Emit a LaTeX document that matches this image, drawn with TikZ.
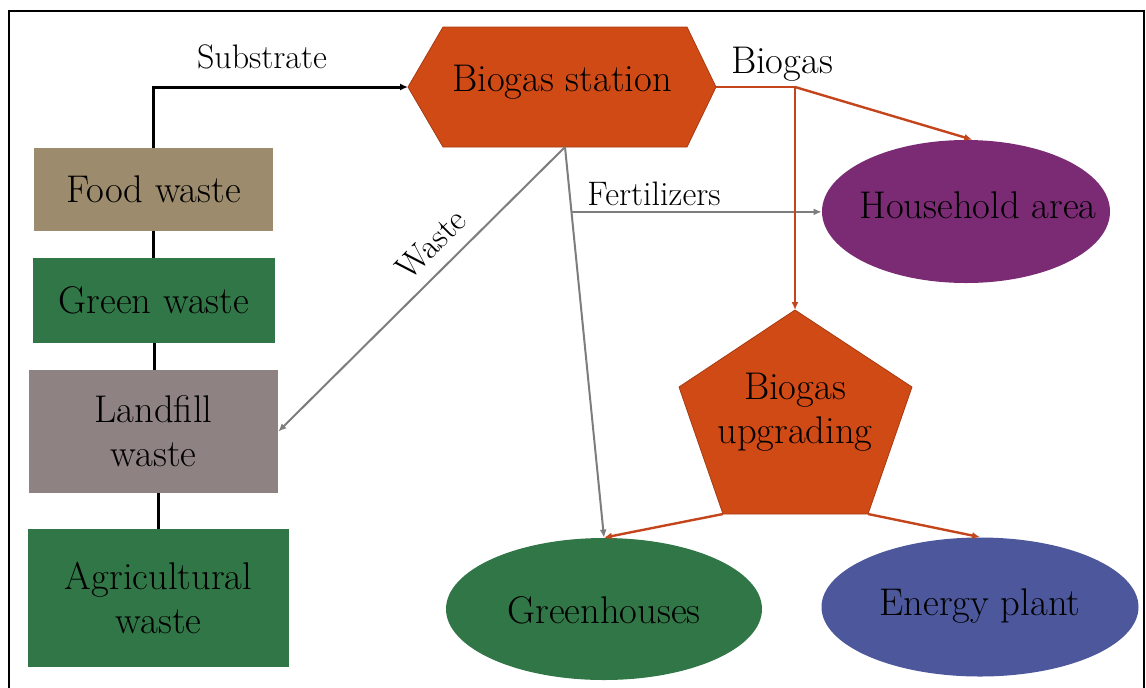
\documentclass[tikz,border=0pt]{standalone}
\usepackage{fontspec}
\usetikzlibrary{shapes.geometric,arrows.meta,calc}
\definecolor{orangec}{RGB}{208,74,22}
\definecolor{tanc}{RGB}{156,139,108}
\definecolor{greenc}{RGB}{49,118,70}
\definecolor{mauvec}{RGB}{142,130,130}
\definecolor{purplec}{RGB}{122,43,116}
\definecolor{bluec}{RGB}{77,88,156}
\definecolor{redlnc}{RGB}{196,68,28}
\definecolor{grylnc}{RGB}{125,125,125}
\begin{document}
\begin{tikzpicture}[x=0.5pt,y=-0.5pt,font=\fontsize{19.3}{22}\selectfont,
  >={Latex[length=4pt,width=3.5pt]},
  box/.style={rectangle,inner sep=0pt,align=center},
  oval/.style={ellipse,inner sep=0pt},
  lbl/.style={font=\fontsize{17}{20}\selectfont,anchor=base},
  blkln/.style={line width=1.5pt,black},
  grayln/.style={line width=1pt,grylnc},
  redln/.style={line width=1.2pt,redlnc},
  shp/.style={fill=orangec,draw=orangec!80!black,line width=0.4pt}]
\useasboundingbox (0,0) rectangle (1146,687);
\draw[line width=1.3pt] (9,700) |- (1144,11) -- (1144,700);
% waste sources
\node[box,fill=tanc,minimum width=119.5pt,minimum height=41.5pt] (food) at (153.5,189.5) {Food waste};
\node[box,fill=greenc,minimum width=121pt,minimum height=42.5pt] (green) at (154,300.5) {Green waste};
\node[box,fill=mauvec,minimum width=124.5pt,minimum height=61.5pt] (land) at (153.5,431.5) {Landfill\\waste};
\node[box,fill=greenc,minimum width=130.5pt,minimum height=69pt] (agri) at (158.5,598) {Agricultural\\waste};
\draw[blkln] (food.south) -- (food.south |- green.north);
\draw[blkln] (green.south) -- (green.south |- land.north);
\draw[blkln] (agri.north) -- (agri.north |- land.south);
% station and upgrading
\filldraw[shp] (408,87) coordinate (hw) -- (443,27) -- (687,27) -- (716,87) coordinate (he) -- (687,147) -- (443,147) -- cycle;
\coordinate (hb) at (565,147); \coordinate (bj) at (795,87);
\node[anchor=base] (station) at (562,91) {Biogas station};
\filldraw[shp] (795,310) coordinate (pt) -- (912,387) -- (868,514) coordinate (pbr) -- (723,514) coordinate (pbl) -- (679,387) -- cycle;
\node[align=center] (upgr) at (795,412.6) {Biogas\\upgrading};
% users
\node[oval,fill=purplec,minimum width=144pt,minimum height=71.5pt] (house) at (966,211.5) {};
\node[oval,fill=greenc,minimum width=158pt,minimum height=71pt] (gh) at (604,609) {};
\node[oval,fill=bluec,minimum width=158.5pt,minimum height=69.5pt] (ep) at (980,607) {};
\node[anchor=base] (houset) at (978,218) {Household area};
\node[anchor=base] (ght) at (604,623) {Greenhouses};
\node[anchor=base] (ept) at (980,615) {Energy plant};
% flows
\draw[blkln,->] (food.north) |- (hw);
\coordinate (fb) at ($(hb)!0.166!(gh.north)$);
\draw[grayln,->] (hb) -- (land.east);
\draw[grayln,->] (hb) -- (gh.north);
\draw[grayln,->] (fb) -- (fb -| house.west);
\draw[redln] (he) -- (bj);
\draw[redln,->] (bj) -- (house.85);
\draw[redln,->] (bj) -- (pt);
\draw[redln,->] (pbl) -- (gh.north);
\draw[redln,->] (pbr) -- (ep.north);
\node[lbl] (subst) at (262,68) {Substrate};
\node[anchor=base] (biogas) at (782,73) {Biogas};
\node[lbl] (fert) at (654,205) {Fertilizers};
\node[font=\fontsize{17}{20}\selectfont,rotate=45] (waste) at (431,244) {Waste};
\end{tikzpicture}
\end{document}
